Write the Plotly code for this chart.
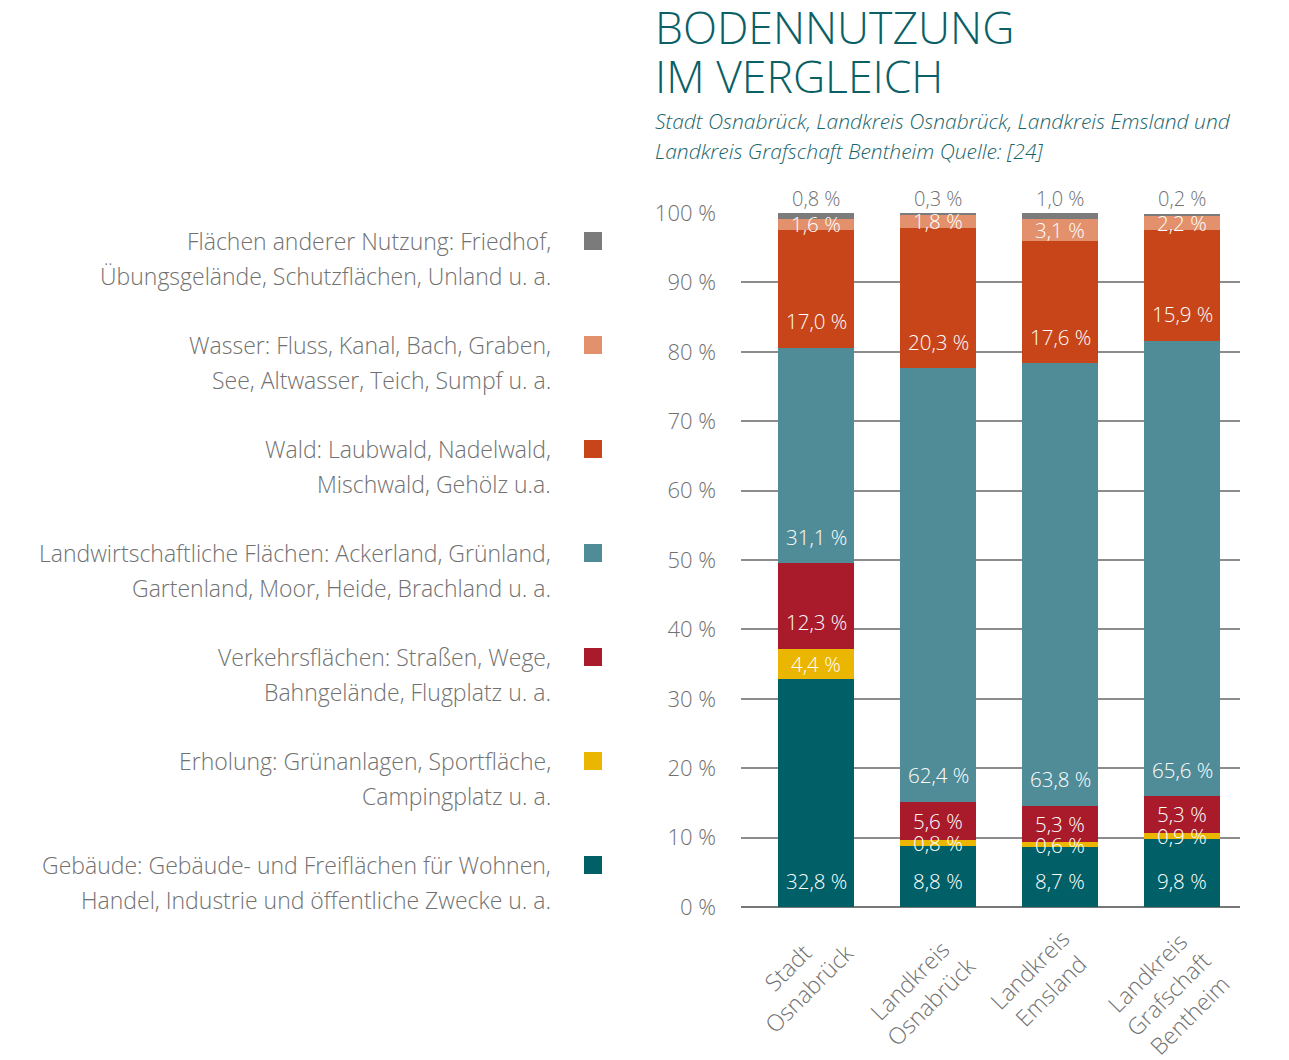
import plotly.graph_objects as go

# ---------------- data ----------------
categories = ["Stadt Osnabrück", "Landkreis Osnabrück", "Landkreis Emsland",
              "Landkreis Grafschaft Bentheim"]
category_labels = ["Stadt<br>Osnabrück", "Landkreis<br>Osnabrück", "Landkreis<br>Emsland",
                   "Landkreis<br>Grafschaft<br>Bentheim"]

series_names = ["Gebäude", "Erholung", "Verkehrsflächen", "Landwirtschaftliche Flächen",
                "Wald", "Wasser", "Flächen anderer Nutzung"]

gebaeude = [32.8, 8.8, 8.7, 9.8]
erholung = [4.4, 0.8, 0.6, 0.9]
verkehr = [12.3, 5.6, 5.3, 5.3]
landwirtschaft = [31.1, 62.4, 63.8, 65.6]
wald = [17.0, 20.3, 17.6, 15.9]
wasser = [1.6, 1.8, 3.1, 2.2]
andere = [0.8, 0.3, 1.0, 0.2]

series_values = [gebaeude, erholung, verkehr, landwirtschaft, wald, wasser, andere]

colors = ["#015f67", "#ebb600", "#a91b2b", "#508c97", "#c74519", "#e3916c", "#7b7b7b"]

legend_lines = [
    ("Flächen anderer Nutzung: Friedhof,", "Übungsgelände, Schutzflächen, Unland u. a."),
    ("Wasser: Fluss, Kanal, Bach, Graben,", "See, Altwasser, Teich, Sumpf u. a."),
    ("Wald: Laubwald, Nadelwald,", "Mischwald, Gehölz u.a."),
    ("Landwirtschaftliche Flächen: Ackerland, Grünland,", "Gartenland, Moor, Heide, Brachland u. a."),
    ("Verkehrsflächen: Straßen, Wege,", "Bahngelände, Flugplatz u. a."),
    ("Erholung: Grünanlagen, Sportfläche,", "Campingplatz u. a."),
    ("Gebäude: Gebäude- und Freiflächen für Wohnen,", "Handel, Industrie und öffentliche Zwecke u. a."),
]
legend_colors = colors[::-1]

yticks = [0, 10, 20, 30, 40, 50, 60, 70, 80, 90, 100]
ytick_labels = [f"{t} %" for t in yticks]

title_lines = ["BODENNUTZUNG", "IM VERGLEICH"]
subtitle_lines = ["Stadt Osnabrück, Landkreis Osnabrück, Landkreis Emsland und",
                  "Landkreis Grafschaft Bentheim Quelle: [24]"]

# ---------------- layout geometry (reference pixel coords, page offset 8px) ----------------
OFF = 8
W, H = 1289 - OFF, 1060 - OFF
L, R, T, B = 741 - OFF, 1240 - OFF, 213 - OFF, 907 - OFF
FONT = "Open Sans"
WEIGHT = 300
GRAY = "#717171"
TEAL = "#0b5f66"
xlabel_offsets = [(-18, 71), (-18, 84), (-20, 73), (-14, 87)]


def px(x):
    return (x - OFF - L) / (R - L)


def py(y):
    return (B - (y - OFF)) / (B - T)


def fmt(v):
    return f"{v:.1f}".replace(".", ",") + " %"


def f(size, color):
    return dict(family=FONT, size=size, color=color, weight=WEIGHT)


fig = go.Figure()
for name, vals, col in zip(series_names, series_values, colors):
    fig.add_trace(go.Bar(x=categories, y=vals, name=name, marker=dict(color=col, line=dict(width=0)),
                         width=0.62, showlegend=False, hoverinfo="skip"))

annotations = []
shapes = []

# value labels
for ci, cat in enumerate(categories):
    bottom = 0.0
    for si, vals in enumerate(series_values):
        v = vals[ci]
        if si == len(series_values) - 1:
            annotations.append(dict(x=cat, y=100, xref="x", yref="y", text=fmt(v), showarrow=False,
                                    yanchor="bottom", yshift=-1, font=f(20, GRAY)))
        else:
            ypos = bottom + min(v / 2, 3.8)
            annotations.append(dict(x=cat, y=ypos, xref="x", yref="y", text=fmt(v), showarrow=False,
                                    yanchor="middle", font=f(20.5, "white")))
        bottom += v

# category labels (rotated, centred lines)
for cat, lab, (dx, dy) in zip(categories, category_labels, xlabel_offsets):
    annotations.append(dict(x=cat, y=0, xref="x", yref="y", text=lab, showarrow=False,
                            textangle=-45, xanchor="center", yanchor="middle", align="center",
                            xshift=dx, yshift=-dy, font=f(23, GRAY)))

# title & subtitle
for i, t in enumerate(title_lines):
    annotations.append(dict(x=px(653), y=py(27 + i * 49), xref="paper", yref="paper", text=t,
                            showarrow=False, xanchor="left", yanchor="middle", font=f(44.5, TEAL)))
for i, t in enumerate(subtitle_lines):
    annotations.append(dict(x=px(653), y=py(121 + i * 30), xref="paper", yref="paper",
                            text=f"<i>{t}</i>", showarrow=False, xanchor="left", yanchor="middle",
                            font=f(21, "#1b666c")))

# legend
for i, ((l1, l2), col) in enumerate(zip(legend_lines, legend_colors)):
    yc = 241 + i * 104
    for j, t in enumerate((l1, l2)):
        annotations.append(dict(x=px(553), y=py(yc + j * 35), xref="paper", yref="paper", text=t,
                                showarrow=False, xanchor="right", yanchor="middle", font=f(23, GRAY)))
    shapes.append(dict(type="rect", xref="paper", yref="paper", x0=px(584), x1=px(602),
                       y0=py(yc - 9), y1=py(yc + 9), fillcolor=col, line=dict(width=0)))

fig.update_layout(
    width=W, height=H,
    barmode="stack",
    margin=dict(l=L, r=W - R, t=T, b=H - B, pad=0),
    paper_bgcolor="white", plot_bgcolor="white",
    font=f(14, GRAY),
    annotations=annotations,
    shapes=shapes,
    xaxis=dict(range=[-0.615, 3.475], showgrid=False, showline=False, zeroline=False,
               showticklabels=False, ticks=""),
    yaxis=dict(range=[0, 100], tickvals=yticks, ticktext=ytick_labels, showgrid=True,
               gridcolor="#8c8c8c", gridwidth=2, zeroline=True, zerolinecolor="#777777",
               zerolinewidth=2, showline=False, ticks="", ticklabelstandoff=24,
               tickfont=f(22, GRAY)),
)

fig.write_html("out.html")
